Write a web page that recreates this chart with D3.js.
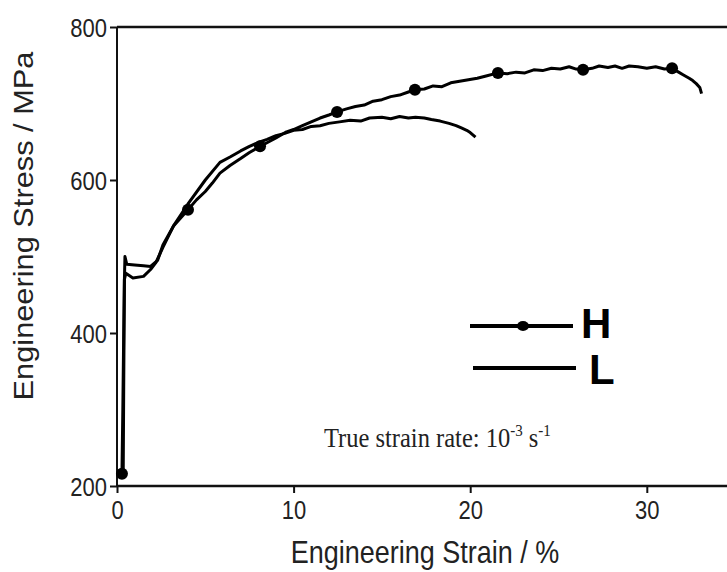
<!DOCTYPE html>
<html>
<head>
<meta charset="utf-8">
<script src="https://cdn.jsdelivr.net/npm/d3@7"></script>
<style>
  body { margin: 0; background: #fff; }
  svg { display: block; }
</style>
</head>
<body>
<div id="root"></div>
<script>
// curve H (with dots)
const hStrain = [0.28, 0.33, 0.38, 0.42, 0.45, 0.55, 1.0, 1.5, 1.9, 2.3, 2.6, 3.2, 4.02, 4.5, 5.0, 5.4, 5.83, 6.4, 7.0, 7.5, 8.1, 8.6, 9.0, 9.6, 10.0, 10.5, 11.0, 11.5, 12.0, 12.46,
    13.0, 13.5, 14.0, 14.5, 15.0, 15.5, 16.0, 16.5, 16.87, 17.4, 17.9, 18.4, 18.9, 19.4, 19.9, 20.4, 20.9, 21.57, 22.1, 22.6, 23.1, 23.6, 24.1, 24.6, 25.1, 25.6, 26.0, 26.39,
    26.9, 27.3, 27.8, 28.2, 28.6, 29.0, 29.5, 30.0, 30.5, 31.0, 31.43, 31.8, 32.1, 32.4, 32.6, 32.8, 33.0, 33.1];
const hStress = [216, 300, 400, 470, 500, 490, 489, 488, 487, 495, 515, 540, 561, 574, 585, 596, 609, 619, 628, 636, 644, 650, 655, 663, 666, 671, 676, 681, 685, 689,
    693, 696, 698, 703, 705, 709, 711, 715, 718, 719, 723, 722, 727, 729, 731, 733, 736, 740, 739, 741, 740, 744, 743, 746, 745, 748, 745, 744,
    746, 749, 747, 749, 746, 749, 748, 746, 748, 745, 746, 741, 737, 733, 730, 726, 721, 713];

// curve L
const lStrain = [0.35, 0.38, 0.42, 0.5, 0.9, 1.5, 1.9, 2.2, 2.6, 3.2, 4.0, 5.0, 5.83, 6.4, 7.0, 7.5, 8.0, 8.5, 9.0, 9.5, 10.0, 10.5, 11.0, 11.5, 12.0, 12.6, 13.2,
    13.8, 14.3, 15.0, 15.5, 16.0, 16.5, 16.9, 17.4, 17.8, 18.3, 18.8, 19.2, 19.5, 19.8, 20.0, 20.3];
const lStress = [210, 330, 470, 478, 472, 474, 483, 492, 512, 540, 568, 600, 623, 630, 638, 644, 649, 653, 658, 661, 665, 666, 670, 671, 674, 676, 678,
    677, 681, 682, 680, 683, 681, 682, 681, 679, 677, 674, 671, 668, 665, 662, 656];

// dots on H
const hMarkStrain = [0.28, 4.02, 8.1, 12.46, 16.87, 21.57, 26.39, 31.43];
const hMarkStress = [216, 561, 644, 689, 718, 740, 744, 746];

const xTicks = [0, 10, 20, 30];
const yTicks = [200, 400, 600, 800];

const width = 727;
const height = 572;

const padLeft = 117;
const padTop = 27;
const axisY = 486;
const stretch = 1.14;

const svg = d3.select('#root').append('svg').
    attr('width', width).
    attr('height', height);

const x = d3.scaleLinear().domain([0, 34.6]).range([padLeft, padLeft + 34.6 * 17.66]);
const y = d3.scaleLinear().domain([200, 800]).range([axisY, padTop]);

const font = 'Liberation Sans, Arial, sans-serif';

// axes
const xAxis = d3.axisBottom(x).tickValues(xTicks).tickSize(7).tickPadding(4);
const yAxis = d3.axisLeft(y).tickValues(yTicks).tickSize(7).tickPadding(3);

const gx = svg.append('g').attr('transform', `translate(0, ${axisY})`).call(xAxis);
const gy = svg.append('g').attr('transform', `translate(${padLeft}, 0)`).call(yAxis);

[gx, gy].forEach(g => {
    g.select('.domain').remove();
    g.selectAll('line').attr('stroke', '#111').attr('stroke-width', 2);
    g.selectAll('text').attr('fill', '#222').style('font-family', font).style('font-size', '22px');
});

// tall narrow look of the scanned labels
gx.selectAll('.tick text').attr('y', 0).attr('dy', 0).
    attr('transform', `translate(0, 33) scale(1, ${stretch})`);
gy.selectAll('.tick text').attr('dy', 0).
    attr('transform', `translate(0, 9) scale(1, ${stretch})`);

svg.append('line').
    attr('x1', padLeft).attr('x2', width).
    attr('y1', axisY).attr('y2', axisY).
    attr('stroke', '#111').attr('stroke-width', 2.5);

svg.append('line').
    attr('x1', padLeft).attr('x2', padLeft).
    attr('y1', padTop).attr('y2', axisY).
    attr('stroke', '#111').attr('stroke-width', 2);

svg.append('line').
    attr('x1', padLeft).attr('x2', width).
    attr('y1', padTop).attr('y2', padTop).
    attr('stroke', '#111').attr('stroke-width', 2.5);

// axis titles
svg.append('text').
    attr('transform', `translate(425, 563) scale(1, ${stretch})`).
    attr('text-anchor', 'middle').
    style('font-family', font).style('font-size', '27px').attr('fill', '#222').
    text('Engineering Strain / %');

svg.append('text').
    attr('transform', `translate(33, 226) scale(1, ${stretch}) rotate(-90)`).
    attr('text-anchor', 'middle').
    style('font-family', font).style('font-size', '27px').attr('fill', '#222').
    text('Engineering Stress / MPa');

// curves
const line = d3.line().x(d => x(d[0])).y(d => y(d[1]));

const hData = hStrain.map((s, i) => [s, hStress[i]]);
const lData = lStrain.map((s, i) => [s, lStress[i]]);
const marks = hMarkStrain.map((s, i) => [s, hMarkStress[i]]);

svg.append('path').datum(lData).
    attr('d', line).attr('fill', 'none').
    attr('stroke', '#000').attr('stroke-width', 3).attr('stroke-linejoin', 'round');

svg.append('path').datum(hData).
    attr('d', line).attr('fill', 'none').
    attr('stroke', '#000').attr('stroke-width', 3).attr('stroke-linejoin', 'round');

svg.selectAll('.dot').data(marks).enter().append('circle').
    attr('class', 'dot').
    attr('cx', d => x(d[0])).attr('cy', d => y(d[1])).
    attr('r', 6).attr('fill', '#000');

// legend
const legend = svg.append('g');

legend.append('line').
    attr('x1', 470).attr('x2', 573).attr('y1', 326).attr('y2', 326).
    attr('stroke', '#000').attr('stroke-width', 4);
legend.append('ellipse').
    attr('cx', 523).attr('cy', 326).attr('rx', 6).attr('ry', 5).attr('fill', '#000');
legend.append('text').
    attr('x', 581).attr('y', 338).
    style('font-family', font).style('font-size', '42px').style('font-weight', 'bold').
    text('H');

legend.append('line').
    attr('x1', 473).attr('x2', 576).attr('y1', 368).attr('y2', 368).
    attr('stroke', '#000').attr('stroke-width', 4);
legend.append('text').
    attr('x', 589).attr('y', 384).
    style('font-family', font).style('font-size', '42px').style('font-weight', 'bold').
    text('L');

// note
const note = svg.append('text').
    attr('transform', `translate(324, 447) scale(1, ${stretch})`).
    style('font-family', 'Liberation Serif, Times New Roman, serif').style('font-size', '24.5px').
    attr('fill', '#222');
note.append('tspan').text('True strain rate: 10');
note.append('tspan').attr('dy', -10).style('font-size', '15px').text('-3');
note.append('tspan').attr('dy', 10).text(' s');
note.append('tspan').attr('dy', -10).style('font-size', '15px').text('-1');
</script>
</body>
</html>
